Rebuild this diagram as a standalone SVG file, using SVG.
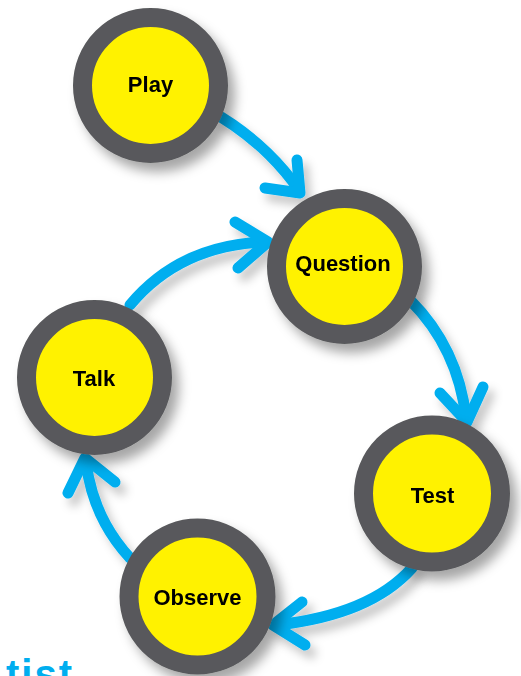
<svg xmlns="http://www.w3.org/2000/svg" width="521" height="676" viewBox="0 0 521 676">
<defs>
<filter id="sh" x="-30%" y="-30%" width="170%" height="170%">
<feDropShadow dx="7" dy="9" stdDeviation="6" flood-color="#000" flood-opacity="0.35"/>
</filter>
<filter id="ash" x="-30%" y="-30%" width="170%" height="170%">
<feDropShadow dx="6" dy="8" stdDeviation="5" flood-color="#000" flood-opacity="0.22"/>
</filter>
</defs>
<style>
.ring{fill:#FFF200;stroke:#58595B;stroke-width:19}
.lbl{font-family:"Liberation Sans",Arial,sans-serif;font-weight:bold;font-size:22px;fill:#000;text-anchor:middle}
.arr{fill:none;stroke:#00AEEF;stroke-width:11;stroke-linecap:round;stroke-linejoin:round}
.foot{font-family:"Liberation Sans",Arial,sans-serif;font-weight:bold;font-size:40px;fill:#00AEEF;letter-spacing:2px}
</style>
<rect width="521" height="676" fill="#fff"/>
<g id="connectors" filter="url(#ash)">
<path class="arr" d="M221,117 Q268,146 299,190"/>
<path class="arr" d="M297,160 L300,193 L265,188"/>
<path class="arr" d="M130,305 Q180,245 265,242"/>
<path class="arr" d="M235,222 L268,242 L238,268"/>
<path class="arr" d="M410,300 Q458,348 466,418"/>
<path class="arr" d="M440,393 L467,422 L483,387"/>
<path class="arr" d="M412,568 Q370,615 276,625"/>
<path class="arr" d="M302,602 L273,625 L305,645"/>
<path class="arr" d="M130,558 Q93,518 86,462"/>
<path class="arr" d="M68,493 L85,458 L115,482"/>
</g>
<g id="play" filter="url(#sh)">
<circle class="ring" cx="150.5" cy="85.5" r="68"/>
<text class="lbl" x="150.5" y="92">Play</text>
</g>
<g id="question" filter="url(#sh)">
<circle class="ring" cx="344.5" cy="266.5" r="68"/>
<text class="lbl" x="343" y="271" font-size="21.5">Question</text>
</g>
<g id="test" filter="url(#sh)">
<circle class="ring" cx="432" cy="493.5" r="68.5"/>
<text class="lbl" x="432.5" y="503">Test</text>
</g>
<g id="observe" filter="url(#sh)">
<circle class="ring" cx="197.5" cy="596.5" r="68.5"/>
<text class="lbl" x="197.5" y="605">Observe</text>
</g>
<g id="talk" filter="url(#sh)">
<circle class="ring" cx="94.5" cy="377.5" r="68"/>
<text class="lbl" x="94" y="386">Talk</text>
</g>
<text class="foot" x="74" y="688" text-anchor="end">tist</text>
</svg>
